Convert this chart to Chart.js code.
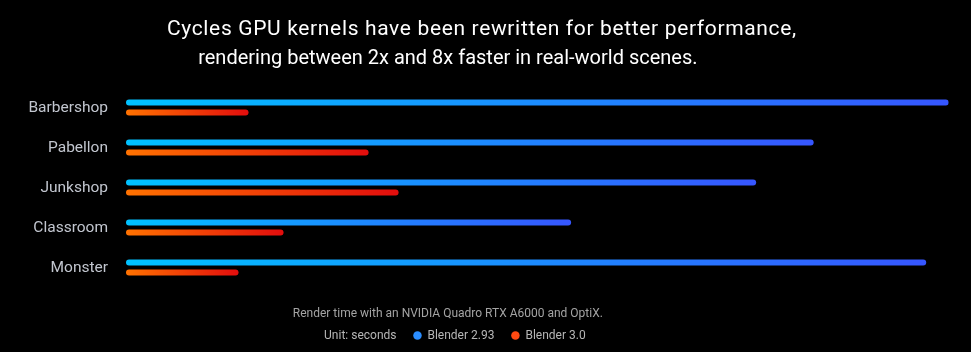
<!DOCTYPE html>
<html>
<head>
<meta charset="utf-8">
<script src="https://cdn.jsdelivr.net/npm/chart.js@4.4.1/dist/chart.umd.min.js"></script>
<style>
    html, body { margin: 0; padding: 0; background: #000; overflow: hidden; }
    #wrap { position: relative; width: 1024px; height: 352px; margin-left: -53px; }
</style>
</head>
<body>
<div id="wrap"><canvas id="benchChart"></canvas></div>
<script>
const scenes = ['Barbershop', 'Pabellon', 'Junkshop', 'Classroom', 'Monster'];
const blender293 = [329, 275, 252, 178, 320];
const blender30 = [49, 97, 109, 63, 45];
const seriesNames = ['Blender 2.93', 'Blender 3.0'];
const headline = 'Cycles GPU kernels have been rewritten for better performance,';
const subline = 'rendering between 2x and 8x faster in real-world scenes.';
const footNote = 'Render time with an NVIDIA Quadro RTX A6000 and OptiX.';
const unitLabel = 'Unit: seconds';
const axisMax = 329;

// each bar gets its own left-to-right gradient
function barGradient(from, to) {
    return function (context) {
        const chart = context.chart;
        if (!chart.chartArea || context.type !== 'data') return from;
        const x = chart.scales.x;
        const x0 = x.getPixelForValue(0);
        const x1 = x.getPixelForValue(context.raw);
        const g = chart.ctx.createLinearGradient(x0, 0, Math.max(x1, x0 + 1), 0);
        g.addColorStop(0, from);
        g.addColorStop(1, to);
        return g;
    };
}

// the first headline line sits a bit right and runs wider in the original
const headlineStyle = {
    id: 'headlineStyle',
    afterLayout(chart) {
        const block = chart.titleBlock;
        if (!block || block._styled) return;
        const draw = block.draw.bind(block);
        block.draw = function () {
            const ctx = chart.ctx;
            ctx.save();
            ctx.translate(34, 0);
            ctx.letterSpacing = '0.65px';
            draw();
            ctx.restore();
        };
        block._styled = true;
    }
};

const barStyle = {
    categoryPercentage: 0.5,
    barPercentage: 0.6,
    borderRadius: 3,
    borderSkipped: false
};

const labelColor = '#b6b6b6';

new Chart(document.getElementById('benchChart'), {
    type: 'bar',
    data: {
        labels: scenes,
        datasets: [
            Object.assign({ label: seriesNames[0], data: blender293, backgroundColor: barGradient('#00c2ff', '#3656ff') }, barStyle),
            Object.assign({ label: seriesNames[1], data: blender30, backgroundColor: barGradient('#ff7200', '#e20d0d') }, barStyle)
        ]
    },
    plugins: [headlineStyle],
    options: {
        indexAxis: 'y',
        responsive: true,
        maintainAspectRatio: false,
        animation: false,
        layout: { padding: { left: 0, right: 22.3, top: 0, bottom: 0.5 } },
        scales: {
            x: { display: false, min: 0, max: axisMax },
            y: {
                grid: { display: false },
                border: { display: false },
                ticks: {
                    color: '#c2c6cf',
                    font: { family: 'Roboto', size: 15.5 },
                    padding: 10,
                    labelOffset: 1
                },
                afterFit: scale => { scale.width = 179; }
            }
        },
        plugins: {
            tooltip: { enabled: false },
            title: {
                display: true,
                text: headline,
                color: '#ffffff',
                font: { family: 'Roboto', size: 21, weight: 'normal', lineHeight: '29px' },
                padding: { top: 15, bottom: 0 }
            },
            subtitle: {
                display: true,
                position: 'top',
                text: subline,
                color: '#ffffff',
                font: { family: 'Roboto', size: 20, weight: 'normal', lineHeight: '29px' },
                padding: { top: 0, bottom: 14.6 }
            },
            legend: {
                position: 'bottom',
                onClick: null,
                title: {
                    display: true,
                    text: footNote,
                    color: '#a4a4a4',
                    font: { family: 'Roboto', size: 12, lineHeight: 1.2 },
                    padding: { top: 20.4, bottom: -9.9 }
                },
                labels: {
                    usePointStyle: true,
                    boxWidth: 8,
                    boxHeight: 6,
                    padding: 17,
                    color: labelColor,
                    font: { family: 'Roboto', size: 12 },
                    generateLabels: () => [
                        { text: unitLabel, fillStyle: 'rgba(0,0,0,0)', strokeStyle: 'rgba(0,0,0,0)', lineWidth: 0, pointStyle: 'circle', fontColor: labelColor },
                        { text: seriesNames[0], fillStyle: '#2a8dff', strokeStyle: '#2a8dff', lineWidth: 0, pointStyle: 'circle', fontColor: labelColor, datasetIndex: 0 },
                        { text: seriesNames[1], fillStyle: '#ff4a12', strokeStyle: '#ff4a12', lineWidth: 0, pointStyle: 'circle', fontColor: labelColor, datasetIndex: 1 }
                    ]
                }
            }
        }
    }
});
</script>
</body>
</html>
